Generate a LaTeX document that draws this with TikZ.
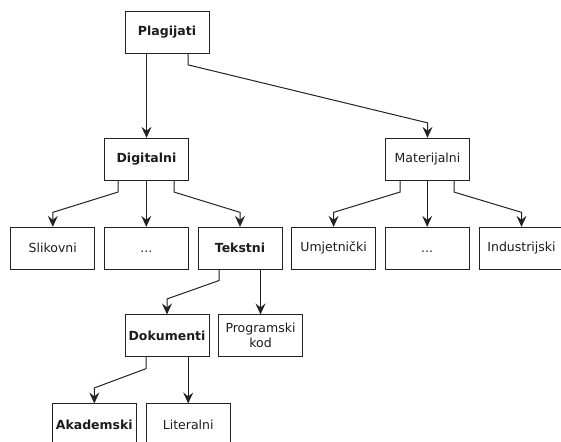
\documentclass[tikz,border=0pt]{standalone}
\usepackage{fontspec}
\setmainfont{DejaVu Sans}
\usepackage{tikz}
\usetikzlibrary{arrows.meta}
\definecolor{linegray}{HTML}{222222}
\definecolor{textdark}{HTML}{1C1A22}
\begin{document}
\begin{tikzpicture}[x=1pt, y=-1pt,
    box/.style={draw=linegray, line width=1pt, minimum width=84pt, minimum height=41.7pt,
                inner sep=1pt, align=center, text=textdark,
                font=\fontsize{12.5}{15}\selectfont},
    bbox/.style={box, font=\fontsize{12.5}{15}\selectfont\bfseries},
    conn/.style={draw=linegray, line width=1pt,
                 -{Stealth[length=11pt, width=10pt, inset=4pt]}}]
            \useasboundingbox (0,0) rectangle (561,441);
            \clip (0,0) rectangle (561,441);
            % boxes
            \node[bbox] (plag) at (167,32.5) {Plagijati};
            \node[bbox] (dig) at (146.5,159.2) {Digitalni};
            \node[box] (mat) at (427.5,159.2) {Materijalni};
            \node[box] (slik) at (52.8,248.2) {Slikovni};
            \node[box] (dotsa) at (146.3,248.2) {\vphantom{Sl}...};
            \node[bbox] (tek) at (240,248.2) {Tekstni};
            \node[box] (umj) at (333.6,248.2) {Umjetnički};
            \node[box] (dotsb) at (427.2,248.2) {\vphantom{Sl}...};
            \node[box] (ind) at (521.5,248.2) {Industrijski};
            \node[bbox] (dok) at (167,335.8) {Dokumenti};
            \node[box] (prog) at (260.5,335.8) {Programski\\kod};
            \node[bbox] (akad) at (94.3,424.8) {Akademski};
            \node[box] (lit) at (188.2,424.8) {Literalni};
            % connectors
            \draw[conn] (plag.south -| dig.north) -- (dig.north);
            \draw[conn] ([xshift=21pt]plag.south) -- ++(0,11) -- ([yshift=15pt]mat.north) -- (mat.north);
            \draw[conn] ([xshift=-28.5pt]dig.south) -- ++(0,11.5) -- ([yshift=14.5pt]slik.north) -- (slik.north);
            \draw[conn] (dig.south -| dotsa.north) -- (dotsa.north);
            \draw[conn] ([xshift=27.5pt]dig.south) -- ++(0,11.5) -- ([yshift=14.5pt]tek.north) -- (tek.north);
            \draw[conn] ([xshift=-27.5pt]mat.south) -- ++(0,11.5) -- ([yshift=14.5pt]umj.north) -- (umj.north);
            \draw[conn] (mat.south -| dotsb.north) -- (dotsb.north);
            \draw[conn] ([xshift=26.5pt]mat.south) -- ++(0,11.5) -- ([yshift=14.5pt]ind.north) -- (ind.north);
            \draw[conn] ([xshift=-21pt]tek.south) -- ++(0,11) -- ([yshift=15.5pt]dok.north) -- (dok.north);
            \draw[conn] (tek.south -| prog.north) -- (prog.north);
            \draw[conn] ([xshift=-21pt]dok.south) -- ++(0,11.5) -- ([yshift=15.5pt]akad.north) -- (akad.north);
            \draw[conn] (dok.south -| lit.north) -- (lit.north);
\end{tikzpicture}
\end{document}
